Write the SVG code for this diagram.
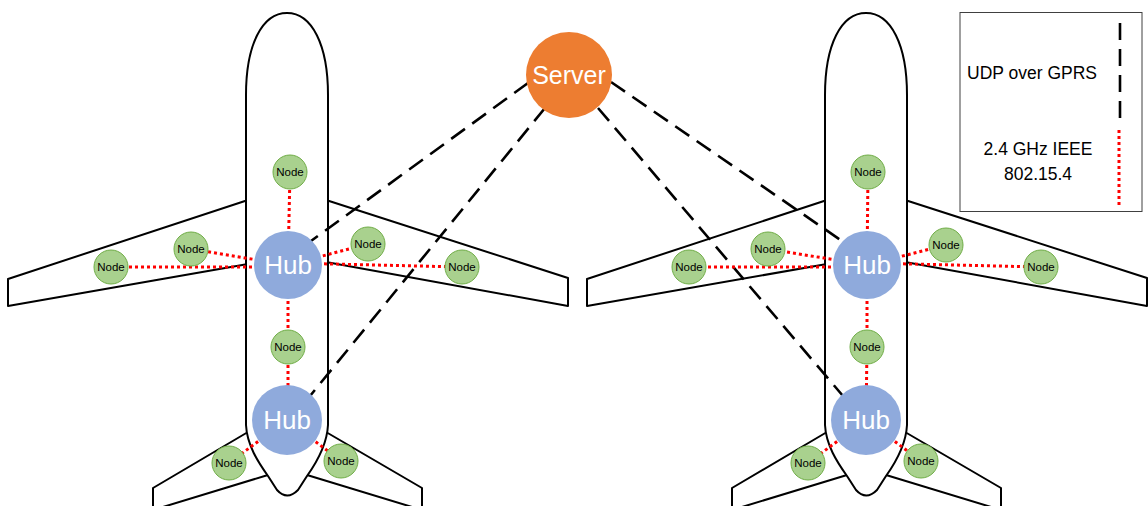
<svg xmlns="http://www.w3.org/2000/svg" xmlns:xlink="http://www.w3.org/1999/xlink" width="1148" height="506" viewBox="0 0 1148 506">
  <style>
    .outline { fill: #ffffff; stroke: #000000; stroke-width: 2; stroke-linejoin: round; }
    .udp { stroke: #000000; stroke-width: 2.6; stroke-dasharray: 17 9; fill: none; }
    .zig { stroke: #ff0000; stroke-width: 3; stroke-dasharray: 3 3; fill: none; }
    .hub circle { fill: #8faadc; }
    .hub text { fill: #ffffff; font-family: "Liberation Sans", Arial, sans-serif; font-size: 26px; text-anchor: middle; }
    .node circle { fill: #a9d18e; stroke: #70ad47; stroke-width: 1; }
    .node text { fill: #000000; font-family: "Liberation Sans", Arial, sans-serif; font-size: 11.5px; text-anchor: middle; }
    .server circle { fill: #ed7d31; }
    .server text { fill: #ffffff; font-family: "Liberation Sans", Arial, sans-serif; font-size: 25px; text-anchor: middle; }
    .legend text { fill: #000000; font-family: "Liberation Sans", Arial, sans-serif; font-size: 17.5px; text-anchor: middle; }
  </style>
  <defs>
    <!-- airframe outline: wings and tail fins first, fuselage on top -->
    <g id="airframe">
      <polygon class="outline" points="248,200 8,279 8,306 248,264"/>
      <polygon class="outline" points="326,200 568,278 568,306 326,262"/>
      <polygon class="outline" points="248,432 153,488 153,510 268,475"/>
      <polygon class="outline" points="326,432 422,488 422,510 307,475"/>
      <path class="outline" d="M246,95 C246,45 262,13 287,13 C312,13 328,45 328,95 L328,425 C327,445 317,462 307,476 L298,490 Q287,501 277,490 L268,476 C258,462 247,445 246,425 Z"/>
    </g>
  </defs>

  <g id="plane-left">
    <use xlink:href="#airframe"/>
  </g>
  <g id="plane-right">
    <use xlink:href="#airframe" transform="translate(579,0)"/>
  </g>

  <g id="connectors">
    <!-- UDP over GPRS links from the server -->
    <line class="udp" x1="528" y1="83" x2="311" y2="241"/>
    <line class="udp" x1="545" y1="108" x2="310" y2="396"/>
    <line class="udp" x1="611" y1="82" x2="842" y2="241"/>
    <line class="udp" x1="598" y1="108" x2="843" y2="396"/>
    <!-- 802.15.4 links, left airframe -->
    <line class="zig" x1="288" y1="265" x2="290" y2="172"/>
    <line class="zig" x1="288" y1="265" x2="191" y2="249"/>
    <line class="zig" x1="288" y1="267" x2="111" y2="267"/>
    <line class="zig" x1="288" y1="265" x2="368" y2="244"/>
    <line class="zig" x1="288" y1="263" x2="462" y2="267"/>
    <line class="zig" x1="288" y1="265" x2="288" y2="347"/>
    <line class="zig" x1="288" y1="347" x2="288" y2="420"/>
    <line class="zig" x1="287" y1="420" x2="229" y2="463"/>
    <line class="zig" x1="287" y1="420" x2="341" y2="461"/>
    <!-- 802.15.4 links, right airframe -->
    <line class="zig" x1="867" y1="265" x2="868" y2="172"/>
    <line class="zig" x1="867" y1="265" x2="768" y2="249"/>
    <line class="zig" x1="867" y1="267" x2="689" y2="267"/>
    <line class="zig" x1="867" y1="265" x2="946" y2="245"/>
    <line class="zig" x1="867" y1="263" x2="1041" y2="267"/>
    <line class="zig" x1="867" y1="265" x2="867" y2="347"/>
    <line class="zig" x1="867" y1="347" x2="866" y2="420"/>
    <line class="zig" x1="866" y1="420" x2="808" y2="463"/>
    <line class="zig" x1="866" y1="420" x2="921" y2="461"/>
  </g>

  <!-- hubs -->
  <g id="hub-left-upper" class="hub"><circle cx="288" cy="265" r="34"/><text x="288" y="274">Hub</text></g>
  <g id="hub-left-lower" class="hub"><circle cx="287" cy="420" r="35"/><text x="287" y="429">Hub</text></g>
  <g id="hub-right-upper" class="hub"><circle cx="867" cy="265" r="34"/><text x="867" y="274">Hub</text></g>
  <g id="hub-right-lower" class="hub"><circle cx="866" cy="420" r="35"/><text x="866" y="429">Hub</text></g>

  <!-- sensor nodes, left airframe -->
  <g id="node-l-top" class="node"><circle cx="290" cy="172" r="17"/><text x="290" y="176">Node</text></g>
  <g id="node-l-lw1" class="node"><circle cx="191" cy="249" r="17"/><text x="191" y="253">Node</text></g>
  <g id="node-l-lw2" class="node"><circle cx="111" cy="267" r="17"/><text x="111" y="271">Node</text></g>
  <g id="node-l-rw1" class="node"><circle cx="368" cy="244" r="17"/><text x="368" y="248">Node</text></g>
  <g id="node-l-rw2" class="node"><circle cx="462" cy="267" r="17"/><text x="462" y="271">Node</text></g>
  <g id="node-l-mid" class="node"><circle cx="288" cy="347" r="17"/><text x="288" y="351">Node</text></g>
  <g id="node-l-tl" class="node"><circle cx="229" cy="463" r="17"/><text x="229" y="467">Node</text></g>
  <g id="node-l-tr" class="node"><circle cx="341" cy="461" r="17"/><text x="341" y="465">Node</text></g>

  <!-- sensor nodes, right airframe -->
  <g id="node-r-top" class="node"><circle cx="868" cy="172" r="17"/><text x="868" y="176">Node</text></g>
  <g id="node-r-lw1" class="node"><circle cx="768" cy="249" r="17"/><text x="768" y="253">Node</text></g>
  <g id="node-r-lw2" class="node"><circle cx="689" cy="267" r="17"/><text x="689" y="271">Node</text></g>
  <g id="node-r-rw1" class="node"><circle cx="946" cy="245" r="17"/><text x="946" y="249">Node</text></g>
  <g id="node-r-rw2" class="node"><circle cx="1041" cy="267" r="17"/><text x="1041" y="271">Node</text></g>
  <g id="node-r-mid" class="node"><circle cx="867" cy="347" r="17"/><text x="867" y="351">Node</text></g>
  <g id="node-r-tl" class="node"><circle cx="808" cy="463" r="17"/><text x="808" y="467">Node</text></g>
  <g id="node-r-tr" class="node"><circle cx="921" cy="461" r="17"/><text x="921" y="465">Node</text></g>

  <!-- ground server -->
  <g id="server" class="server"><circle cx="569" cy="75" r="43"/><text x="569" y="84">Server</text></g>

  <!-- legend -->
  <g id="legend" class="legend">
    <rect x="960" y="12.5" width="182" height="199" fill="#ffffff" stroke="#404040" stroke-width="1"/>
    <line class="udp" x1="1120" y1="23" x2="1120" y2="124"/>
    <line class="zig" x1="1119" y1="130" x2="1119" y2="206"/>
    <text x="1032" y="79">UDP over GPRS</text>
    <text x="1038" y="155">2.4 GHz IEEE</text>
    <text x="1038" y="180">802.15.4</text>
  </g>
</svg>
